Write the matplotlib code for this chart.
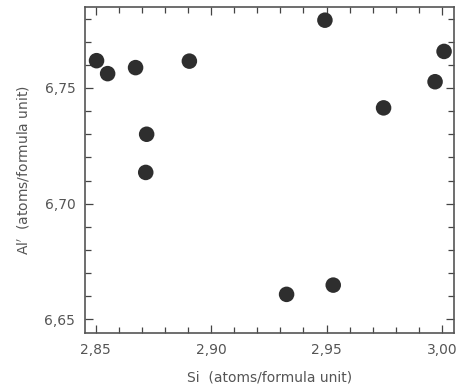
import matplotlib
matplotlib.use("Agg")
import matplotlib.pyplot as plt
from matplotlib.ticker import MultipleLocator, FuncFormatter

si = [2.8504, 2.8552, 2.8673, 2.8906, 2.8721, 2.8717, 2.9493, 3.0009, 2.9970, 2.9747, 2.9327, 2.9529]
al = [6.7618, 6.7562, 6.7588, 6.7616, 6.7300, 6.7135, 6.7793, 6.7658, 6.7527, 6.7414, 6.6608, 6.6648]

x_ticks = [2.85, 2.90, 2.95, 3.00]
y_ticks = [6.65, 6.70, 6.75]

plt.rcParams['font.family'] = ['DejaVu Sans']
fig = plt.figure(figsize=(4.62, 3.91), dpi=100)
ax = fig.add_axes([85/462, 58/391, (454-85)/462, (333-7)/391])

ax.scatter(si, al, s=125, color='#2e2e2e', edgecolors='none', zorder=3)

ax.set_xlim(2.8454, 3.0052)
ax.set_ylim(6.6441, 6.785)
ax.set_xticks(x_ticks)
ax.set_yticks(y_ticks)
ax.xaxis.set_minor_locator(MultipleLocator(0.01))
ax.yaxis.set_minor_locator(MultipleLocator(0.01))
fmt = FuncFormatter(lambda v, p: f"{v:.2f}".replace('.', ','))
ax.xaxis.set_major_formatter(fmt)
ax.yaxis.set_major_formatter(fmt)

gray = '#555555'
ax.tick_params(which='both', direction='in', top=True, right=True, colors='#444444', width=0.9)
ax.tick_params(which='major', length=6, labelsize=10, labelcolor=gray, pad=7)
ax.tick_params(which='minor', length=4)
for sp in ax.spines.values():
    sp.set_color('#555555')
    sp.set_linewidth(1.2)

ax.set_xlabel("Si  (atoms/formula unit)", fontsize=10, color=gray, labelpad=10)
ax.set_ylabel("Al$^{\\prime}$  (atoms/formula unit)", fontsize=10, color=gray, labelpad=9)

fig.savefig("out.png", dpi=100)
